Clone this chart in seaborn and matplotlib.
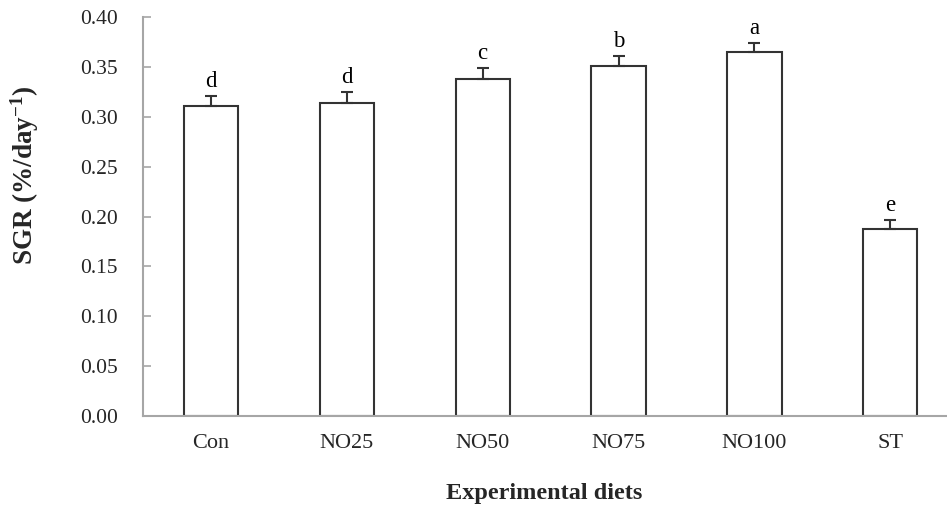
import matplotlib
matplotlib.use("Agg")
import matplotlib.pyplot as plt
import seaborn as sns
import pandas as pd
import numpy as np

categories = ["Con", "NO25", "NO50", "NO75", "NO100", "ST"]
sgr_values = [0.311, 0.3135, 0.3375, 0.351, 0.3645, 0.1875]
sgr_errors = [0.010, 0.011, 0.011, 0.010, 0.0096, 0.0093]
letters = ["d", "d", "c", "b", "a", "e"]
y_ticks = [0.00, 0.05, 0.10, 0.15, 0.20, 0.25, 0.30, 0.35, 0.40]

sns.set_style("white")
plt.rcParams["font.family"] = ["Liberation Serif", "DejaVu Serif"]
plt.rcParams["mathtext.fontset"] = "custom"
plt.rcParams["mathtext.rm"] = "Liberation Serif"
plt.rcParams["mathtext.bf"] = "Liberation Serif:bold"
plt.rcParams["mathtext.it"] = "Liberation Serif:italic"

df = pd.DataFrame({"diet": categories, "sgr": sgr_values})

fig = plt.figure(figsize=(9.47, 5.12), dpi=100)
ax = fig.add_axes([143 / 947, 96 / 512, 803 / 947, 399 / 512])

sns.barplot(data=df, x="diet", y="sgr", order=categories, color="white",
            edgecolor="#333333", linewidth=1.5, width=0.4, errorbar=None,
            ax=ax, zorder=2)
for p in ax.patches:
    p.set_facecolor("white")

xpos = np.arange(len(categories))
ax.errorbar(xpos, sgr_values, yerr=[np.zeros(len(sgr_errors)), sgr_errors],
            fmt="none", ecolor="#333333", elinewidth=1.5, capsize=4,
            capthick=1.5, zorder=3)

for x, v, e, t in zip(xpos, sgr_values, sgr_errors, letters):
    ax.annotate(t, (x, v + e), xytext=(0, 6.5), textcoords="offset points",
                ha="center", va="baseline", fontsize=16.5, color="black")

ax.set_xlim(-0.5, 5.41)
ax.set_ylim(0, 0.40)
ax.set_yticks(y_ticks)
ax.set_yticklabels([f"{t:.2f}" for t in y_ticks])

for s in ["top", "right"]:
    ax.spines[s].set_visible(False)
for s in ["left", "bottom"]:
    ax.spines[s].set_color("#a6a6a6")
    ax.spines[s].set_linewidth(1.5)

ax.tick_params(axis="y", direction="in", length=6, width=1.2, color="#a6a6a6",
               pad=18, labelsize=15.5, left=True)
ax.tick_params(axis="x", length=0, pad=13, labelsize=16)

ax.set_xlabel("Experimental diets", fontsize=17.5, fontweight="bold")
ax.set_ylabel(r"SGR (%/day$^{\mathbf{-1}}$)", fontsize=19.5, fontweight="bold")
ax.xaxis.set_label_coords(0.5, -0.193)
ax.xaxis.label.set_va("center")
ax.yaxis.set_label_coords(-0.147, 0.604)
ax.yaxis.label.set_va("center")

fig.savefig("out.png", dpi=100)
